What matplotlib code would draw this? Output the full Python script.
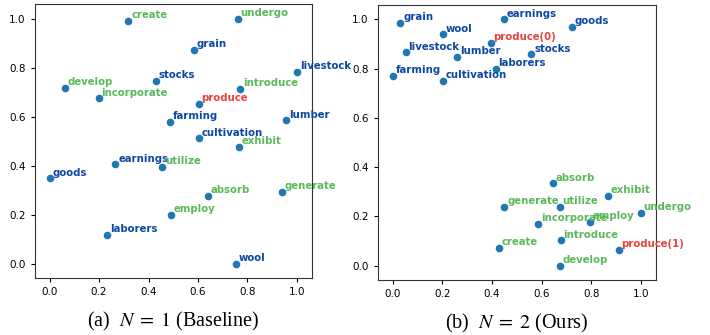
import matplotlib
matplotlib.use("Agg")
import matplotlib.pyplot as plt

BLUE = "#0d47a1"
GREEN = "#5cb85c"
RED = "#e8423f"

# (a) N = 1 (Baseline)
words_a = ["create", "undergo", "grain", "livestock", "stocks", "develop",
           "incorporate", "introduce", "produce", "farming", "lumber",
           "cultivation", "exhibit", "earnings", "utilize", "goods",
           "absorb", "generate", "employ", "laborers", "wool"]
x_a = [0.319, 0.761, 0.582, 1.0, 0.429, 0.063, 0.198, 0.771, 0.603, 0.487,
       0.958, 0.605, 0.767, 0.266, 0.456, 0.0, 0.641, 0.939, 0.489, 0.232,
       0.753]
y_a = [0.992, 1.0, 0.873, 0.782, 0.747, 0.717, 0.675, 0.713, 0.652, 0.579,
       0.586, 0.512, 0.479, 0.406, 0.397, 0.349, 0.277, 0.294, 0.202, 0.118,
       0.0]
kind_a = ["v", "v", "n", "n", "n", "v", "v", "v", "t", "n", "n", "n", "v",
          "n", "v", "n", "v", "v", "v", "n", "n"]

# (b) N = 2 (Ours)
words_b = ["grain", "wool", "earnings", "goods", "produce(0)", "livestock",
           "lumber", "stocks", "laborers", "farming", "cultivation",
           "absorb", "exhibit", "generate", "utilize", "undergo",
           "incorporate", "employ", "introduce", "create", "produce(1)",
           "develop"]
x_b = [0.031, 0.204, 0.448, 0.720, 0.394, 0.052, 0.261, 0.558, 0.414, 0.0,
       0.203, 0.646, 0.866, 0.450, 0.672, 0.999, 0.585, 0.794, 0.676, 0.429,
       0.910, 0.672]
y_b = [0.986, 0.939, 1.0, 0.969, 0.904, 0.866, 0.848, 0.858, 0.800, 0.771,
       0.751, 0.334, 0.285, 0.239, 0.239, 0.214, 0.169, 0.178, 0.103, 0.072,
       0.064, 0.0]
kind_b = ["n", "n", "n", "n", "t", "n", "n", "n", "n", "n", "n", "v", "v",
          "v", "v", "v", "v", "v", "v", "v", "t", "v"]

COLORS = {"n": BLUE, "v": GREEN, "t": RED}


def draw(ax, words, xs, ys, kinds, caption):
    ax.scatter(xs, ys, s=20, color="#1f77b4", zorder=2)
    for w, x, y, k in zip(words, xs, ys, kinds):
        ax.annotate(w, (x, y), xytext=(2, 2), textcoords="offset points",
                    fontsize=7.3, fontweight="bold", color=COLORS[k])
    ax.set_xlim(-0.06, 1.06)
    ax.set_ylim(-0.057, 1.06)
    ax.set_xticks([0.0, 0.2, 0.4, 0.6, 0.8, 1.0])
    ax.set_yticks([0.0, 0.2, 0.4, 0.6, 0.8, 1.0])
    ax.tick_params(labelsize=7.5, length=3)
    for sp in ax.spines.values():
        sp.set_color("#333333")
    # caption under the panel
    ax.text(0.5, -0.178, caption, transform=ax.transAxes, ha="center",
            va="baseline", fontsize=14.5, family="Liberation Serif")


plt.rcParams["mathtext.fontset"] = "stix"

fig = plt.figure(figsize=(7.1, 3.35), dpi=100)
ax1 = fig.add_axes([0.049, 0.170, 0.390, 0.818])
ax2 = fig.add_axes([0.532, 0.165, 0.392, 0.821])

draw(ax1, words_a, x_a, y_a, kind_a, r"(a)  $N\;=\;1$ (Baseline)")
draw(ax2, words_b, x_b, y_b, kind_b, r"(b)  $N\;=\;2$ (Ours)")

fig.savefig("out.png", dpi=100)
